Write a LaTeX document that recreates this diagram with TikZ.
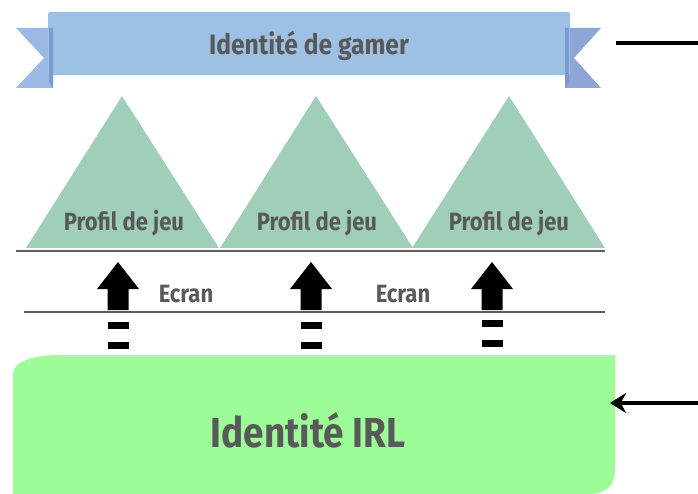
\documentclass[tikz,border=0pt]{standalone}
\usepackage{fontspec}
\setmainfont{Fira Sans}[FakeStretch=0.88]
\usetikzlibrary{arrows.meta}
\definecolor{txt}{HTML}{595959}
\definecolor{bannerc}{HTML}{9DC0E5}
\definecolor{taill}{HTML}{9BB9E2}
\definecolor{tailr}{HTML}{8EA6D6}
\definecolor{foldc}{HTML}{7A9BD2}
\definecolor{trif}{HTML}{9FCFB8}
\definecolor{irl}{HTML}{9CFC98}
\definecolor{rule}{HTML}{5E5E5E}
\tikzset{
  lbl/.style={text=txt, font=\bfseries\fontsize{25}{25}\selectfont, inner sep=0pt, anchor=base},
  tri/.style={fill=trif, draw=none},
  blockarrow/.style={fill=black, draw=none},
  dashbar/.style={fill=black, draw=none},
  sepline/.style={draw=rule},
  outline/.style={draw=black, line width=3.5pt},
}
\begin{document}
\begin{tikzpicture}[x=1pt, y=-1pt]
\useasboundingbox (0,0) rectangle (698,494);
% banner
\fill[taill] (16,28) -- (53,28) -- (53,88) -- (16,88) -- (44,58) -- cycle;
\fill[tailr] (565,28) -- (601,28) -- (574,58) -- (601,88) -- (565,88) -- cycle;
\fill[bannerc, rounded corners=2pt] (48,12) rectangle (570,75);
\fill[foldc] (49,28) -- (53,28) -- (53,88) -- (49,82) -- cycle;
\fill[foldc] (565,28) -- (569,28) -- (569,82) -- (565,88) -- cycle;
\node[lbl, font=\bfseries\fontsize{28}{28}\selectfont] (gamer) at (309,55) {Identité de gamer};
% triangles
\coordinate (t1) at (122,96);
\coordinate (t2) at (316,96);
\coordinate (t3) at (509,96);
\fill[tri] (t1) -- (219,248) -- (26,248) -- cycle;
\fill[tri] (t2) -- (413,248) -- (220,248) -- cycle;
\fill[tri] (t3) -- (605,248) -- (412,248) -- cycle;
\node[lbl] (p1) at (124,230) {Profil de jeu};
\node[lbl] (p2) at (317,230) {Profil de jeu};
\node[lbl] (p3) at (509,230) {Profil de jeu};
% separator lines
\draw[sepline, line width=2pt] (16,251) -- (605,251);
\draw[sepline, line width=1.4pt] (24,312) -- (605,312);
\node[lbl] (e1) at (186,302) {Ecran};
\node[lbl] (e2) at (403,302) {Ecran};
% block arrows and dashes
\foreach \cx/\dy in {118/0, 311/0, 492/-2}{
  \fill[blockarrow] (\cx,262) -- (\cx+21,289) -- (\cx+10.5,289) -- (\cx+10.5,310) -- (\cx-10.5,310) -- (\cx-10.5,289) -- (\cx-21,289) -- cycle;
  \fill[dashbar] (\cx-10.5,322+\dy) rectangle (\cx+10.5,329+\dy);
  \fill[dashbar] (\cx-10.5,342+\dy) rectangle (\cx+10.5,349+\dy);
}
% IRL box
\fill[irl] (13,494) -- (13,375) .. controls (13,360) and (35,355) .. (62,355) -- (615,355) -- (615,470) .. controls (615,486) and (605,494) .. (590,494) -- cycle;
\node[lbl, font=\bfseries\fontsize{42}{42}\selectfont] (irlt) at (308,447) {Identité IRL};
\coordinate (irlr) at (610,403);
% right connectors
\coordinate (topa) at (616,43);
\coordinate (topb) at (698,43);
\coordinate (rin) at (698,403);
\draw[outline] (topa) -- (topb);
\draw[outline, -{Stealth[length=16pt,width=20pt]}] (rin) -- (irlr);
\end{tikzpicture}
\end{document}
